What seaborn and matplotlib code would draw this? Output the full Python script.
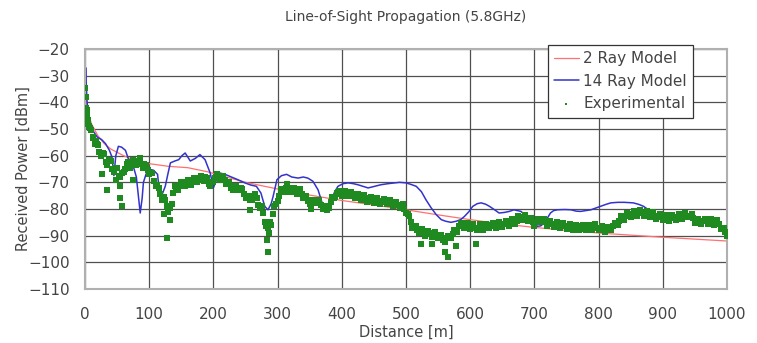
import numpy as np
import pandas as pd
import seaborn as sns
import matplotlib
import matplotlib.pyplot as plt

matplotlib.use("Agg")

# 2 Ray Model (red curve)
ray2_distance = [1, 3, 5, 10, 20, 30, 40, 60, 80, 100, 130, 160, 190, 220, 250, 280, 320, 360,
                 400, 450, 500, 550, 600, 650, 700, 750, 800, 850, 900, 950, 1000]
ray2_power = [-35, -41, -44, -48, -52.5, -55.5, -57.5, -60, -62, -63, -64, -64.5, -66, -68, -70,
              -71.5, -73.5, -75.2, -76.8, -78.5, -80.3, -82.2, -84, -85.6, -86.9, -88, -89,
              -89.8, -90.6, -91.3, -92]

# 14 Ray Model (blue curve)
ray14_distance = [0, 1, 3, 6, 12, 19, 26, 32, 38, 42, 45, 48, 52, 57, 63, 68, 74, 80, 86, 89, 91,
                  95, 99, 107, 113, 117, 121, 125, 129, 133, 140, 146, 151, 156, 160, 164, 172,
                  179, 187, 195, 200, 205, 210, 218, 226, 238, 249, 258, 267, 274, 280, 285, 290,
                  293, 299, 306, 314, 322, 332, 340, 347, 355, 363, 371, 378, 384, 389, 394, 402,
                  410, 418, 425, 433, 441, 451, 461, 472, 482, 490, 500, 508, 516, 524, 531, 539,
                  547, 555, 562, 570, 578, 585, 591, 598, 604, 611, 617, 624, 630, 638, 645, 653,
                  661, 668, 679, 687, 694, 700, 705, 710, 715, 720, 725, 730, 736, 747, 757, 765,
                  772, 780, 788, 796, 803, 811, 819, 830, 840, 854, 863, 870, 876, 883, 890, 900,
                  910, 920, 930, 940, 950, 960, 970, 980, 990, 1000]
ray14_power = [-35, -27, -39, -47.5, -50.5, -53, -54, -55.5, -58, -60.5, -67.5, -60, -56.5, -56.8,
               -58, -61.5, -63, -68, -81.5, -76, -70, -67, -65, -65.5, -67, -76, -74, -71.5, -67,
               -62.7, -62, -61.5, -60, -59, -60.5, -62, -61, -59.6, -61.5, -66.5, -72, -69, -66.5,
               -67, -67.8, -69, -70.2, -71, -71.5, -74, -79, -80.3, -78, -75.3, -69, -67.5, -67,
               -68, -68.4, -68, -68.4, -69.6, -72.8, -79, -80.3, -76.5, -73.5, -71.5, -70.5, -70.2,
               -70.5, -70.9, -71.5, -72.1, -71.5, -70.9, -70.5, -70.2, -70, -70.2, -70.8, -71.5,
               -73.5, -76.5, -79.5, -82.1, -84, -84.6, -85, -84.6, -84, -82.8, -81, -79, -78,
               -77.7, -78.2, -79, -80.3, -81.5, -81.3, -80.9, -80.3, -80.9, -82.5, -84, -85.5,
               -86.5, -86.3, -85.3, -83.5, -81.5, -80.6, -80.3, -80.2, -80.3, -80.8, -80.9, -80.6,
               -80.3, -79.6, -79, -78.3, -77.7, -77.5, -77.5, -77.7, -78.3, -79, -80, -81.2, -82,
               -82.8, -83.4, -83.2, -82.8, -82.5, -84.2, -84.6, -84.7, -85, -86, -88]

# Experimental (green points), sampled every 5 m
exp_distance = list(range(0, 1001, 5))
exp_power = [
    -34.5, -48, -50.5, -55.5, -56, -60, -59.5, -63.5, -62, -66, -64.5, -68, -66, -63, -64.5,
    -61.5, -63.5, -61, -64.5, -63.5, -67, -66.5, -71.5, -72, -76.5, -76.5, -81, -78, -71.5, -73,
    -70, -71.5, -69, -71, -68.5, -70, -67.5, -69.5, -68.5, -71.5, -70, -67, -69.3, -67.5, -70.8,
    -70, -73, -71.5, -73, -72.5, -76, -75, -76.5, -74.5, -78.5, -79, -85, -87, -86, -79, -77,
    -72.5, -73.5, -70.5, -73.5, -72, -74.3, -72.5, -76, -75, -78, -76.5, -77.8, -76.5, -80, -79,
    -79.7, -75.5, -75.5, -73.2, -75, -73.2, -75.3, -73.5, -75.8, -74.2, -76.5, -74.8, -77.2,
    -75.5, -77.7, -75.9, -78, -76.2, -78.3, -76.5, -78.8, -77.2, -79.5, -78, -81.5, -82.5, -87,
    -86.5, -89, -87.5, -90, -88.2, -90.4, -88.5, -91, -89.7, -92.5, -90, -91, -88, -88.5, -85.4,
    -87, -85.2, -87.5, -85.8, -88, -85.8, -87.7, -85.5, -87.3, -85.2, -87, -84.8, -86.6, -84.5,
    -86.2, -83.9, -85.5, -82.7, -84, -82.2, -84.6, -83.5, -86.2, -83.6, -85, -83.7, -86.3, -84.5,
    -86.7, -84.9, -87.1, -85.3, -87.5, -85.6, -87.8, -86, -88, -86, -88, -85.9, -87.7, -85.6,
    -87.8, -86.2, -88.6, -86.7, -88, -85.3, -86, -82.8, -84.2, -81.5, -83, -80.8, -82.6, -80.5,
    -82.7, -80.9, -83, -81.3, -83.6, -81.8, -84, -82.2, -84.4, -82.2, -84, -81.8, -83.6, -81.4,
    -83, -82, -85.2, -83.6, -85.6, -83.6, -85.7, -83.9, -86.1, -84.3, -87.5, -87, -90]

# Experimental (green points) in between, at 2.5 m + every 5 m
exp_mid_distance = [2.5 + 5 * k for k in range(200)]
exp_mid_power = [
    -43, -49.5, -53.5, -54.5, -58.5, -59, -62.5, -61.5, -65, -64.5,
    -67.5, -66.5, -65, -62.5, -63.5, -62.5, -62, -63, -63, -65.5,
    -66.5, -69.5, -71, -74.5, -75.5, -79, -79.5, -74, -72.5, -71,
    -71.5, -70, -70.5, -69.5, -70, -68.5, -69, -68, -70.5, -70,
    -68.5, -68, -68.5, -69, -70.5, -72, -71.5, -72.5, -72, -74.5,
    -75, -76.5, -75, -76, -79.5, -81.5, -86.5, -85, -82, -78,
    -75, -73, -72, -72, -72.5, -73.5, -73, -74.5, -75.5, -77,
    -76.5, -77.5, -77, -78.5, -79, -80.5, -77.5, -76, -74, -74.5,
    -74, -74.5, -74, -75, -74.5, -75.5, -75.5, -76, -76, -77,
    -76.5, -77.5, -77, -77.5, -77, -78, -77.5, -78.5, -78.5, -80,
    -82, -85, -86.5, -88, -87.5, -88.5, -89.5, -89, -89, -90,
    -90, -91.5, -91, -90.5, -89.5, -88.5, -86.5, -86.5, -85.5, -86.5,
    -86, -87, -87, -87, -86.5, -86.5, -86, -86.5, -85.5, -86,
    -85.5, -85.5, -85, -84.5, -84.5, -83.5, -83, -83.5, -84, -85,
    -85, -84.5, -84, -85, -85.5, -85.5, -86, -86, -86.5, -86.5,
    -86.5, -87, -87, -87, -86.5, -87.5, -87, -87, -86.5, -87,
    -87, -87, -88, -87.5, -86.5, -85.5, -84.5, -83.5, -82.5, -82,
    -82, -81.5, -81.5, -81.5, -82, -82, -82, -82.5, -82.5, -83,
    -83, -83.5, -83.5, -83, -83, -82.5, -82.5, -82.5, -82.5, -83.5,
    -84.5, -84.5, -84.5, -84.5, -85, -84.5, -85, -85.5, -87, -88.5]

# Experimental points near the antenna and scattered outliers
near_distance = [1, 2, 3, 4, 7, 12, 18, 22]
near_power = [-38, -42, -45, -46.5, -49, -53, -55.5, -58.5]
outlier_distance = [26, 34, 48, 55, 55, 57, 75, 123, 127, 133, 257, 283, 285, 287, 352, 523, 540,
                    560, 565, 578, 609]
outlier_power = [-67, -73, -69, -71.5, -76, -79, -69, -82, -91, -84, -80.5, -91.5, -96, -89, -80,
                 -93, -93, -96, -98, -94, -93]

exp = pd.DataFrame({
    "distance": exp_distance + exp_mid_distance + near_distance + outlier_distance,
    "power": exp_power + exp_mid_power + near_power + outlier_power,
})
ray2 = pd.DataFrame({"distance": ray2_distance, "power": ray2_power})
ray14 = pd.DataFrame({"distance": ray14_distance, "power": ray14_power})

sns.set_style("white")
plt.rcParams["font.family"] = ["DejaVu Sans"]

fig = plt.figure(figsize=(7.57, 3.43), dpi=100)
ax = fig.add_axes([85 / 757, 1 - 289 / 343, 642 / 757, 240 / 343])

sns.scatterplot(data=exp, x="distance", y="power", ax=ax, color="#1f8a1f", marker="s", s=14,
                linewidth=0, label="Experimental", zorder=3)
sns.lineplot(data=ray2, x="distance", y="power", ax=ax, color="#ff7070", linewidth=0.9,
             label="2 Ray Model", zorder=2)
sns.lineplot(data=ray14, x="distance", y="power", ax=ax, color="#3333cc", linewidth=1.1,
             label="14 Ray Model", zorder=2)

ax.set_xlim(0, 1000)
ax.set_ylim(-110, -20)
ax.set_xticks(range(0, 1001, 100))
ax.set_yticks(range(-110, -19, 10))
ax.grid(True, color="#505050", linewidth=0.9)
ax.tick_params(axis="both", length=0, labelsize=11, colors="#444444")
ax.tick_params(axis="x", pad=13)
ax.tick_params(axis="y", pad=11)
for sp in ax.spines.values():
    sp.set_color("#b0b0b0")
    sp.set_linewidth(1.5)

ax.set_title("Line-of-Sight Propagation (5.8GHz)", fontsize=10, pad=20, color="#444444")
ax.set_xlabel("Distance [m]", fontsize=10.5, labelpad=2, color="#444444")
ax.set_ylabel("Received Power [dBm]", fontsize=10.5, labelpad=-2, color="#444444")

handles, labels = ax.get_legend_handles_labels()
order = [labels.index(l) for l in ["2 Ray Model", "14 Ray Model", "Experimental"]]
leg = ax.legend([handles[i] for i in order], [labels[i] for i in order],
                loc="upper left", bbox_to_anchor=(548 / 757, 1 - 45 / 343),
                bbox_transform=fig.transFigure, borderaxespad=0, fontsize=11,
                frameon=True, fancybox=False, edgecolor="#333333", framealpha=1,
                handlelength=1.6, handletextpad=0.3, labelspacing=0.5, borderpad=0.4,
                markerscale=0.4)
leg.get_frame().set_linewidth(0.9)
for t in leg.get_texts():
    t.set_color("#444444")

fig.savefig("out.png", dpi=100)
